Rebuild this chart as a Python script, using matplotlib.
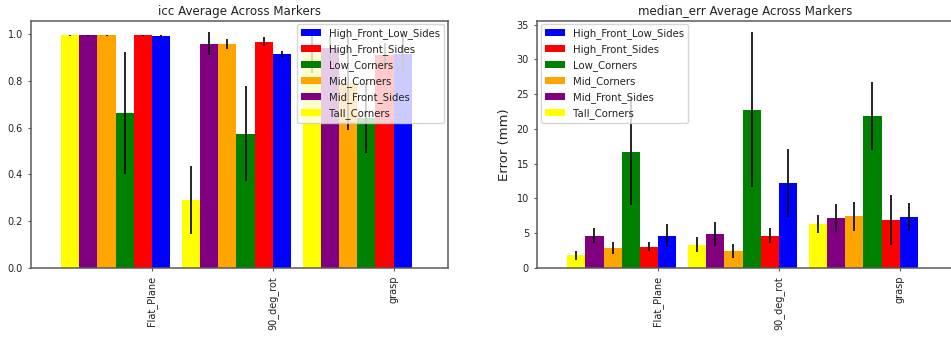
import numpy as np
import matplotlib
matplotlib.use("Agg")
import matplotlib.pyplot as plt

# -------------------------------
# Data
# -------------------------------

motions = ["Flat_Plane", "90_deg_rot", "grasp"]
configs = ["High_Front_Low_Sides", "High_Front_Sides", "Low_Corners",
           "Mid_Corners", "Mid_Front_Sides", "Tall_Corners"]
colors = ["blue", "red", "green", "orange", "purple", "yellow"]

# icc mean / std per config, one value per motion
icc_mean = {
    "High_Front_Low_Sides": [0.993, 0.916, 0.915],
    "High_Front_Sides":     [0.995, 0.967, 0.910],
    "Low_Corners":          [0.662, 0.574, 0.640],
    "Mid_Corners":          [0.995, 0.958, 0.790],
    "Mid_Front_Sides":      [0.995, 0.958, 0.940],
    "Tall_Corners":         [0.995, 0.290, 0.920],
}
icc_std = {
    "High_Front_Low_Sides": [0.005, 0.013, 0.085],
    "High_Front_Sides":     [0.003, 0.019, 0.050],
    "Low_Corners":          [0.262, 0.203, 0.150],
    "Mid_Corners":          [0.003, 0.023, 0.200],
    "Mid_Front_Sides":      [0.003, 0.049, 0.050],
    "Tall_Corners":         [0.002, 0.147, 0.085],
}

# median error (mm) mean / std
err_mean = {
    "High_Front_Low_Sides": [4.63, 12.23, 7.35],
    "High_Front_Sides":     [3.01, 4.63, 6.88],
    "Low_Corners":          [16.71, 22.78, 21.87],
    "Mid_Corners":          [2.87, 2.39, 7.40],
    "Mid_Front_Sides":      [4.63, 4.82, 7.16],
    "Tall_Corners":         [1.81, 3.30, 6.35],
}
err_std = {
    "High_Front_Low_Sides": [1.70, 4.92, 2.00],
    "High_Front_Sides":     [0.65, 1.05, 3.60],
    "Low_Corners":          [7.70, 11.10, 4.92],
    "Mid_Corners":          [0.88, 1.00, 2.12],
    "Mid_Front_Sides":      [1.10, 1.76, 1.98],
    "Tall_Corners":         [0.64, 1.10, 1.29],
}

# -------------------------------
# Plot helpers
# -------------------------------

FS_TICK = 7.0
FS_LEG = 7.3
SPINE = "#5a5a5a"


def bar_group(ax, means, stds, title, ylabel=None, legend_loc="upper right"):
    x = np.arange(len(motions))
    width = 0.15
    for i, (cfg, col) in enumerate(zip(configs, colors)):
        ax.bar(x - i * width, means[cfg], width, align="edge", color=col,
               label=cfg, zorder=2)
        ax.errorbar(x - i * width + width / 2, means[cfg], yerr=stds[cfg],
                    fmt="none", ecolor="black", elinewidth=1.2, capsize=0,
                    zorder=3)
    ax.set_xticks(x)
    ax.set_xticklabels(motions, rotation=90, fontsize=FS_TICK, color="#222222")
    ax.set_xlim(-1.0, 2.45)
    ax.tick_params(axis="y", labelsize=FS_TICK, labelcolor="#222222")
    ax.tick_params(length=2.3, width=0.8, color=SPINE)
    for s in ax.spines.values():
        s.set_color(SPINE)
        s.set_linewidth(1.1)
    ax.set_title(title, fontsize=8.6, color="#222222", pad=4)
    if ylabel:
        ax.set_ylabel(ylabel, fontsize=9.5, color="#222222")
    leg = ax.legend(loc=legend_loc, fontsize=FS_LEG, framealpha=0.8,
                    borderaxespad=0.35)
    leg.set_zorder(5)
    for t in leg.get_texts():
        t.set_color("#222222")


fig = plt.figure(figsize=(9.51, 3.37), dpi=100)
ax1 = fig.add_axes([0.0326, 0.2056, 0.4385, 0.733])
ax2 = fig.add_axes([0.5647, 0.2056, 0.4385, 0.733])

bar_group(ax1, icc_mean, icc_std, "icc Average Across Markers",
          legend_loc="upper right")
bar_group(ax2, err_mean, err_std, "median_err Average Across Markers",
          ylabel="Error (mm)", legend_loc="upper left")

fig.savefig("out.png", dpi=100)
